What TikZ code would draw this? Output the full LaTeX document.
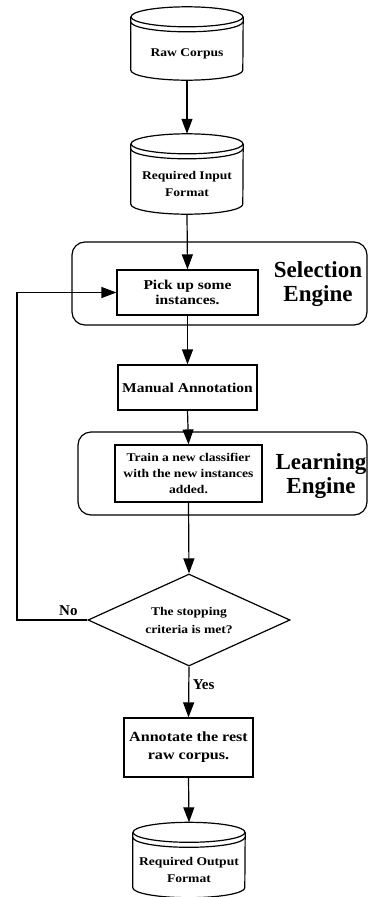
\documentclass[tikz,border=0pt]{standalone}
\usepackage{fontspec}
\setmainfont{Liberation Serif}
\newfontfamily\widefont[FakeStretch=1.15]{Liberation Serif}
\usetikzlibrary{arrows.meta,calc,shapes.geometric}

\tikzset{
  box/.style={draw, line width=1.2pt, align=center, inner sep=2pt, font=\widefont\bfseries\fontsize{13.5}{14.5}\selectfont},
  db/.style={align=center, inner sep=0pt, minimum width=112pt, font=\widefont\bfseries\fontsize{11.8}{17}\selectfont},
  engine/.style={draw, line width=1.2pt, rounded corners=13pt, inner sep=0pt},
  enginelabel/.style={align=center, font=\bfseries\fontsize{23}{24}\selectfont},
  decision/.style={draw, diamond, aspect=2.2, line width=1.2pt, inner sep=0pt, align=center,
    minimum width=202pt, minimum height=92pt, font=\widefont\bfseries\fontsize{11.8}{18}\selectfont},
  flow/.style={line width=1.2pt, -{Triangle[width=11pt,length=15pt]}},
  answer/.style={font=\bfseries\fontsize{15}{15}\selectfont},
}

% drum outline round a db node
\newcommand{\drum}[1]{%
  \draw[line width=1.2pt] ($(#1.north)+(0,-10)$) ellipse [x radius=56, y radius=10];
  \draw[line width=1.2pt] ($(#1.north west)+(0,-5)$) arc [start angle=180, end angle=0, x radius=56, y radius=10];
  \draw[line width=1.2pt] ($(#1.north west)+(0,-10)$) -- ($(#1.south west)+(0,-10)$)
    arc [start angle=180, end angle=0, x radius=56, y radius=10] -- ($(#1.north east)+(0,-10)$);
  \coordinate (#1-top) at ($(#1.north)+(0,-20)$);
}

\begin{document}
\begin{tikzpicture}[x=1pt,y=1pt,yscale=-1]
  \useasboundingbox (0,0) rectangle (369,897);

  %Data: raw corpus
  \node[db, minimum height=53pt] (raw) at (187,53.5) {Raw Corpus};
  \drum{raw}
  %Data: input format
  \node[db, minimum height=60pt] (inp) at (187,184) {Required Input\\Format};
  \drum{inp}

  %Rounded box: selection engine
  \node[engine, minimum width=295pt, minimum height=83pt] (selbox) at (219.5,283.5) {};
  \node[enginelabel] (sellabel) at (318,284) {Selection\\Engine};
  \node[box, minimum width=141pt, minimum height=45pt] (pick) at (187.5,292.5) {Pick up some\\instances.};

  %Process: annotation
  \node[box, minimum width=139pt, minimum height=45pt] (manual) at (187.5,387.5) {Manual Annotation};

  %Rounded box: learning engine
  \node[engine, minimum width=289pt, minimum height=83pt] (learnbox) at (222.5,473.5) {};
  \node[enginelabel] (learnlabel) at (321,476) {Learning\\Engine};
  \node[box, minimum width=147pt, minimum height=57pt, font=\widefont\bfseries\fontsize{11.8}{16}\selectfont] (train) at (188.5,473.5) {Train a new classifier\\with the new instances\\added.};

  %Decision
  \node[decision] (stop) at (189,620) {The stopping\\criteria is met?};

  %Process: rest of corpus
  \node[box, minimum width=129pt, minimum height=59pt, font=\widefont\bfseries\fontsize{14}{18}\selectfont] (annot) at (188.5,747.5) {Annotate the rest\\raw corpus.};

  %Data: output format
  \node[db, minimum height=55pt] (out) at (189,870) {Required Output\\Format};
  \drum{out}

  \coordinate (back) at (17,620);

  %Connectors
  \draw[flow] (raw.south) -- (inp-top);
  \draw[flow] (inp.south) -- (pick.north);
  \draw[flow] (pick.south) -- (manual.north);
  \draw[flow] (manual.south) -- (train.north);
  \draw[flow] (train.south) -- (stop.north);
  \draw[flow] (stop.south) -- node[answer, right, pos=0.35] {Yes} (annot.north);
  \draw[flow] (annot.south) -- (out-top);
  \draw[flow] (stop.west) -- node[answer, above, pos=0.27] {No} (back) |- (pick.west);
\end{tikzpicture}
\end{document}
